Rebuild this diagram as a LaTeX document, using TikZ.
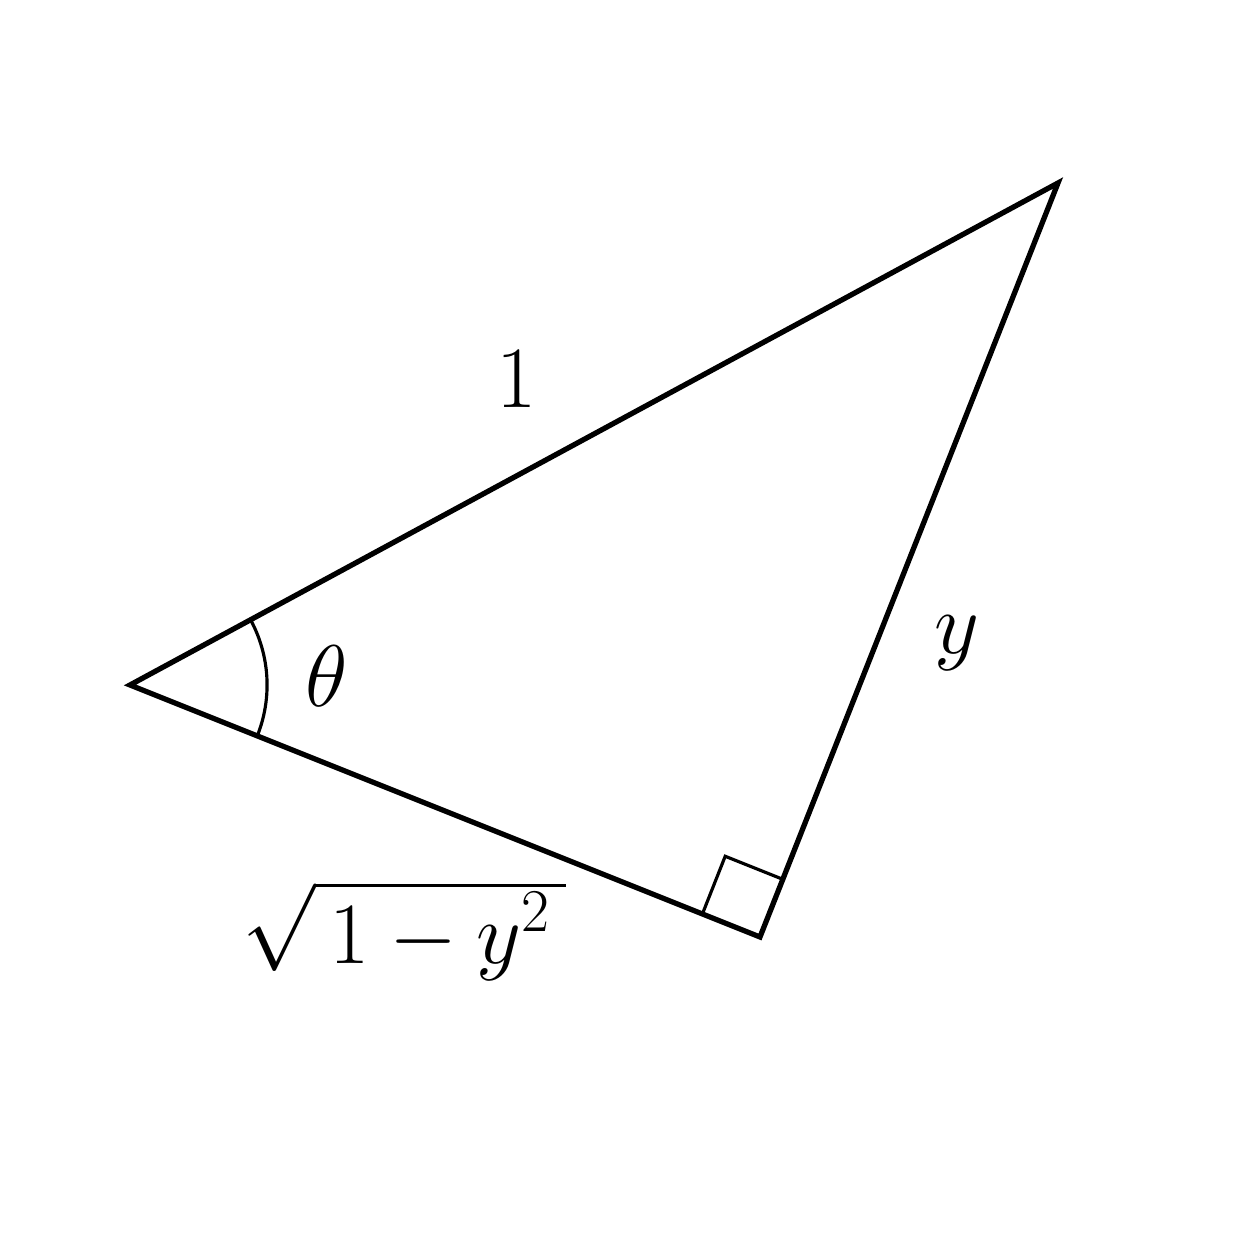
\documentclass[tikz,border=0pt]{standalone}
\usetikzlibrary{calc,angles}
\begin{document}
\begin{tikzpicture}[x=0.01cm,y=0.01cm,
  side/.style={line width=1.5pt},
  thin mark/.style={line width=0.9pt},
  lbl/.style={inner sep=0pt,font=\fontsize{27}{32}\selectfont}]
\useasboundingbox (0,0) rectangle (1254,1254);
\coordinate (A) at (130,569);
\coordinate (B) at (1058,1071);
\coordinate (C) at (760,317);
\draw[side] (A) -- (B) -- (C) -- cycle;
\pic[draw,thin mark,angle radius=1.37cm] {angle = C--A--B};
\coordinate (p) at ($(C)!0.62cm!(A)$);
\coordinate (q) at ($(C)!0.62cm!(B)$);
\draw[thin mark] (p) -- ($(p)+(q)-(C)$) -- (q);
\node[lbl] (one) at (517,875) {$1$};
\node[lbl] (th) at (327,578) {$\theta$};
\node[lbl] (yy) at (957,611) {$y$};
\node[inner sep=0pt,font=\fontsize{38}{45}\selectfont] (s) at (404,328)
  {$\sqrt{\rule{0pt}{18.6pt}\smash{\hbox{\fontsize{27}{32}\selectfont$\,1-y^2\,$}}}$};
\end{tikzpicture}
\end{document}
